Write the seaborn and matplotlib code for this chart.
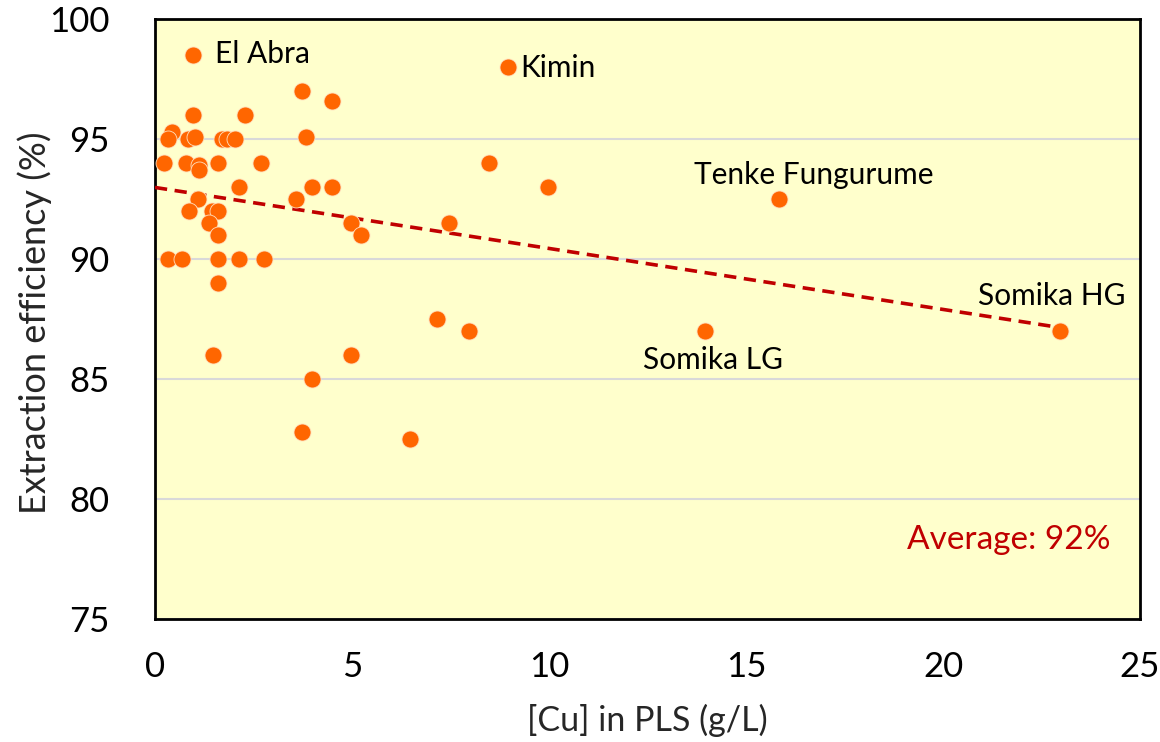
import numpy as np
import pandas as pd
import matplotlib
matplotlib.use("Agg")
import matplotlib.pyplot as plt
import seaborn as sns

# Copper concentration in PLS (g/L) and SX extraction efficiency (%) per operation
cu_pls = [0.96, 8.96, 3.72, 4.48, 0.97, 2.28, 0.42, 0.34, 0.85, 1.02, 1.69, 1.82,
          2.03, 3.83, 0.23, 0.79, 1.12, 1.12, 1.59, 2.69, 8.48, 2.14, 3.99, 4.48,
          9.97, 15.84, 3.57, 1.10, 0.87, 1.44, 1.61, 1.38, 4.97, 7.46, 1.59, 5.23,
          0.34, 0.69, 1.59, 2.13, 2.77, 1.59, 7.16, 7.97, 13.96, 22.97, 1.48, 4.97,
          3.99, 3.72, 6.47]
efficiency = [98.5, 98.0, 97.0, 96.6, 96.0, 96.0, 95.3, 95.0, 95.0, 95.1, 95.0, 95.0,
              95.0, 95.1, 94.0, 94.0, 93.9, 93.7, 94.0, 94.0, 94.0, 93.0, 93.0, 93.0,
              93.0, 92.5, 92.5, 92.5, 92.0, 92.0, 92.0, 91.5, 91.5, 91.5, 91.0, 91.0,
              90.0, 90.0, 90.0, 90.0, 90.0, 89.0, 87.5, 87.0, 87.0, 87.0, 86.0, 86.0,
              85.0, 82.8, 82.5]

# Named operations
site_names = ["El Abra", "Kimin", "Tenke Fungurume", "Somika LG", "Somika HG"]
site_cu = [0.96, 8.96, 15.84, 13.96, 22.97]
site_eff = [98.5, 98.0, 92.5, 87.0, 87.0]

x_ticks = [0, 5, 10, 15, 20, 25]
y_ticks = [75, 80, 85, 90, 95, 100]

df = pd.DataFrame({"cu": cu_pls, "eff": efficiency})

sns.set_style("white")
plt.rcParams["font.family"] = ["Lato", "DejaVu Sans"]

fig = plt.figure(figsize=(11.6, 7.42), dpi=100)
ax = fig.add_axes([0.1336, 0.1658, 0.8492, 0.8086])
ax.set_facecolor("#FFFFCC")

# Linear trend across all operations
fit = np.polyfit(df["cu"], df["eff"], 1)
trend_x = np.array([0.0, max(cu_pls)])
ax.plot(trend_x, np.polyval(fit, trend_x), ls=(0, (3.4, 2.1)), color="#C00000",
        lw=2.6, zorder=3)

sns.scatterplot(data=df, x="cu", y="eff", ax=ax, s=150, color="#FF6600",
                edgecolor="#FFE0C0", linewidth=0.6, zorder=4, legend=False)

ax.set_xlim(0, 25)
ax.set_ylim(75, 100)
ax.set_xticks(x_ticks)
ax.set_yticks(y_ticks)
ax.yaxis.grid(True, color="#D9D9D9", lw=1.5)
ax.set_axisbelow(True)
ax.tick_params(axis="both", direction="in", length=9, width=1.5, labelsize=25,
               colors="black")
ax.tick_params(axis="x", pad=23)
ax.tick_params(axis="y", pad=33)
for sp in ax.spines.values():
    sp.set_color("black")
    sp.set_linewidth(2)

ax.set_xlabel("[Cu] in PLS (g/L)", fontsize=24.5)
ax.xaxis.set_label_coords(0.5, -0.142)
ax.set_ylabel("Extraction efficiency (%)", fontsize=26)
ax.yaxis.set_label_coords(-0.105, 0.493)

# label offsets in points: (dx, dy, ha, va)
offsets = {"El Abra": (16, 1, "left", "center"),
           "Kimin": (9, -1, "left", "center"),
           "Tenke Fungurume": (25, 17, "center", "center"),
           "Somika LG": (6, -21, "center", "center"),
           "Somika HG": (-6, 25, "center", "center")}
for name, xv, yv in zip(site_names, site_cu, site_eff):
    dx, dy, ha, va = offsets[name]
    ax.annotate(name, (xv, yv), xytext=(dx, dy), textcoords="offset points",
                ha=ha, va=va, fontsize=21.5, color="black")

ax.text(0.9695, 0.132, f"Average: {np.mean(efficiency):.0f}%", transform=ax.transAxes,
        ha="right", va="center", fontsize=24, color="#C00000")

fig.savefig("out.png", dpi=100)
